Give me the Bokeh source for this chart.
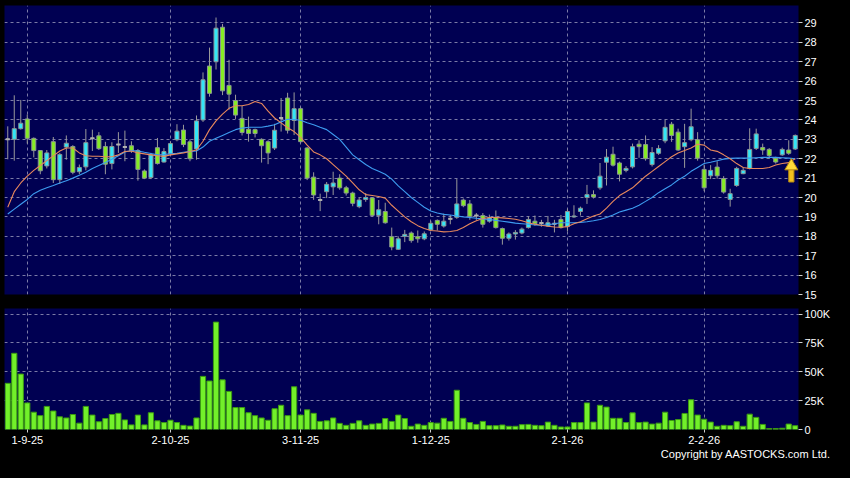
from bokeh.plotting import figure
from bokeh.layouts import column
from bokeh.models import ColumnDataSource, FixedTicker, Range1d, Div
from bokeh.embed import file_html
from bokeh.resources import INLINE

# ---------------- data ----------------
tick_idx = [3, 25, 45, 65, 86, 107]
tick_labels = ["1-9-25", "2-10-25", "3-11-25", "1-12-25", "2-1-26", "2-2-26"]

opens = [23.0, 23.0, 23.55, 24.05, 23.05, 22.42, 21.63, 22.88, 20.92, 22.6,
         22.63, 21.33, 21.58, 23.05, 23.18, 22.63, 21.75, 22.73, 22.6, 22.67,
         22.42, 21.37, 21.03, 22.57, 21.83, 22.25, 22.98, 23.48, 22.87, 22.5,
         24.0, 26.78, 27.0, 28.78, 25.78, 25.0, 24.08, 23.52, 23.5, 23.0,
         22.88, 22.55, 24.1, 25.13, 23.97, 24.58, 22.55, 21.05, 19.87, 20.3,
         20.55, 21.0, 20.5, 20.23, 19.53, 19.9, 19.98, 19.08, 19.28, 17.98,
         17.33, 18.0, 18.17, 17.98, 17.87, 18.33, 18.82, 18.53, 18.9, 18.98,
         19.87, 19.67, 19.07, 19.07, 18.78, 18.98, 18.4, 17.9, 18.12, 18.17,
         18.45, 18.78, 18.68, 18.53, 18.65, 18.87, 18.5, 19.0, 19.28, 20.0,
         20.15, 20.5, 21.82, 22.23, 21.78, 21.4, 21.58, 22.75, 22.73, 21.7,
         22.28, 22.92, 23.78, 23.37, 22.62, 22.98, 22.98, 21.45, 21.12, 21.57,
         20.98, 19.9, 20.62, 21.23, 21.5, 22.53, 22.58, 22.48, 22.03, 22.2,
         22.45, 22.5]
highs = [23.67, 25.27, 25.03, 24.28, 23.1, 22.45, 22.45, 23.12, 22.3, 23.2,
         22.7, 21.7, 23.53, 23.5, 23.37, 22.87, 22.85, 23.37, 23.45, 22.9,
         22.5, 21.45, 22.3, 23.07, 22.55, 22.9, 23.78, 23.75, 23.0, 24.23,
         26.45, 27.73, 29.28, 28.95, 27.1, 25.3, 24.72, 24.17, 23.55, 23.05,
         22.95, 23.8, 25.13, 25.4, 25.42, 24.65, 22.6, 21.3, 20.2, 20.8,
         21.33, 21.2, 20.6, 20.3, 20.0, 20.23, 20.0, 19.87, 19.73, 18.45,
         18.0, 18.33, 18.25, 18.3, 18.25, 18.8, 18.87, 19.17, 19.1, 20.95,
         19.95, 19.87, 19.2, 19.2, 19.12, 19.33, 18.45, 18.2, 18.32, 18.45,
         19.03, 19.07, 18.85, 19.05, 18.85, 19.1, 19.42, 19.6, 19.53, 20.65,
         20.37, 21.78, 22.5, 22.62, 21.85, 21.62, 22.78, 22.95, 23.2, 22.6,
         22.7, 24.0, 23.9, 23.55, 23.8, 24.58, 23.37, 21.7, 21.67, 21.87,
         21.1, 20.45, 21.58, 21.55, 23.57, 23.55, 22.78, 22.55, 22.1, 22.57,
         22.95, 23.25]
lows = [21.97, 21.9, 23.5, 22.78, 22.07, 21.2, 21.5, 20.75, 20.7, 21.95,
        21.2, 21.2, 21.4, 22.4, 22.45, 21.2, 21.45, 22.3, 21.87, 22.3,
        20.87, 20.95, 20.95, 21.7, 21.8, 22.2, 22.9, 22.6, 21.87, 21.95,
        23.9, 25.2, 26.6, 25.28, 24.53, 24.05, 23.2, 22.88, 23.1, 21.8,
        21.72, 22.45, 23.4, 23.3, 23.22, 22.8, 20.9, 19.88, 19.3, 19.97,
        20.13, 20.4, 20.1, 19.55, 19.45, 19.78, 19.0, 18.62, 18.65, 17.28,
        17.3, 17.7, 17.67, 17.67, 17.8, 18.28, 18.3, 18.45, 18.62, 18.9,
        19.5, 18.85, 18.85, 18.45, 18.7, 18.4, 17.57, 17.78, 17.83, 18.1,
        18.4, 18.55, 18.5, 18.5, 18.2, 18.4, 18.25, 18.95, 19.07, 19.67,
        19.95, 20.4, 20.62, 21.6, 20.83, 21.3, 21.5, 22.05, 21.9, 21.6,
        22.2, 22.8, 22.87, 22.4, 21.53, 22.9, 21.9, 20.33, 20.95, 20.97,
        20.2, 19.53, 20.55, 21.2, 21.45, 22.45, 22.2, 22.0, 21.75, 22.15,
        22.2, 22.45]
closes = [23.0, 23.55, 23.83, 23.05, 22.42, 21.38, 22.3, 20.92, 22.22, 22.8,
          21.3, 21.55, 22.83, 23.05, 22.52, 21.72, 22.63, 22.73, 22.6, 22.42,
          21.45, 21.0, 22.2, 21.75, 22.37, 22.78, 23.42, 22.73, 22.0, 23.95,
          26.07, 25.37, 28.73, 25.5, 25.33, 24.25, 23.35, 23.3, 23.3, 22.67,
          22.3, 23.47, 24.1, 23.47, 24.58, 22.88, 21.0, 20.13, 19.87, 20.68,
          20.75, 20.5, 20.23, 19.7, 19.87, 20.0, 19.08, 19.37, 18.7, 17.45,
          17.87, 18.1, 17.78, 17.87, 18.13, 18.67, 18.62, 18.78, 18.9, 19.67,
          19.58, 19.03, 19.07, 18.62, 18.95, 18.45, 17.9, 18.12, 18.2, 18.37,
          18.87, 18.65, 18.68, 18.7, 18.65, 18.45, 19.28, 19.05, 19.45, 20.15,
          20.03, 21.1, 22.08, 21.67, 21.2, 21.5, 22.62, 22.62, 22.0, 22.32,
          22.53, 23.62, 23.2, 22.45, 22.83, 23.65, 22.03, 20.5, 21.4, 21.12,
          20.28, 20.2, 21.5, 21.4, 22.48, 23.28, 22.45, 22.17, 21.83, 22.48,
          22.28, 23.2]
# volume in thousands of shares
volume_k = [40, 66, 48, 23, 15, 12, 20, 16, 11, 10,
            13, 5.5, 20, 12.5, 6.7, 9.5, 13, 14, 8.3, 4,
            12.5, 4, 14.5, 7.5, 6, 8, 6, 3.6, 3, 10,
            46, 42, 93, 43, 33, 19, 19, 14.5, 12, 10,
            8, 18, 21, 12, 37, 12.5, 17, 14, 7, 7.5,
            10, 5.3, 3.6, 5.3, 7.5, 3.6, 4.7, 5.3, 9.5, 7,
            12.5, 9.5, 2.8, 4.7, 3.6, 6, 5.5, 9.7, 7, 34,
            9.7, 6, 4.4, 7, 3.3, 3.3, 3.9, 2.8, 2.8, 4.2,
            4.4, 3.6, 3.3, 6.4, 3.6, 2.2, 2.2, 6, 6, 23,
            6.4, 21, 19.4, 9.7, 9.7, 6, 14.4, 6, 6.4, 4.7,
            5.5, 15, 7.8, 8.6, 13.9, 25.8, 12.5, 8.9, 6.4, 2.8,
            3.6, 3.3, 6.7, 2.8, 13.3, 10.5, 4.4, 0.8, 0.8, 1.1,
            4.7, 3.3]
ma_short = [19.5, 20.3, 20.75, 21.1, 21.4, 21.65, 21.9, 22.15, 22.4, 22.55,
            22.55, 22.3, 22.15, 22.13, 22.13, 22.1, 22.1, 22.2, 22.37, 22.4,
            22.3, 22.25, 22.2, 22.15, 22.12, 22.2, 22.25, 22.3, 22.37, 22.45,
            22.9, 23.5, 23.95, 24.3, 24.6, 24.73, 24.73, 24.8, 24.95, 24.85,
            24.45, 24.1, 23.85, 23.6, 23.4, 23.1, 22.7, 22.35, 22.2, 22.0,
            21.7, 21.4, 21.1, 20.75, 20.4, 20.15, 20.1, 20.05, 19.97, 19.6,
            19.3, 19.0, 18.75, 18.55, 18.4, 18.3, 18.27, 18.23, 18.25, 18.3,
            18.45, 18.65, 18.8, 18.92, 18.97, 18.97, 18.95, 18.92, 18.88, 18.8,
            18.7, 18.62, 18.57, 18.52, 18.48, 18.47, 18.5, 18.65, 18.75, 18.9,
            19.05, 19.15, 19.45, 19.8, 20.1, 20.3, 20.5, 20.8, 21.1, 21.35,
            21.6, 21.85, 22.1, 22.3, 22.42, 22.55, 22.75, 22.7, 22.45, 22.38,
            22.2, 22.0, 21.75, 21.55, 21.5, 21.5, 21.5, 21.55, 21.68, 21.75,
            21.8, 22.0]
ma_long = [19.15, 19.4, 19.65, 19.9, 20.2, 20.38, 20.5, 20.62, 20.75, 20.87,
           21.0, 21.15, 21.3, 21.5, 21.65, 21.8, 21.97, 22.15, 22.35, 22.42,
           22.4, 22.33, 22.27, 22.2, 22.22, 22.25, 22.28, 22.33, 22.37, 22.4,
           22.6, 22.9, 23.05, 23.2, 23.35, 23.5, 23.58, 23.62, 23.62, 23.62,
           23.68, 23.75, 23.9, 24.03, 24.02, 23.98, 23.85, 23.75, 23.62, 23.5,
           23.25, 23.0, 22.6, 22.2, 21.95, 21.7, 21.5, 21.35, 21.2, 20.95,
           20.6, 20.3, 20.0, 19.75, 19.5, 19.3, 19.2, 19.13, 19.1, 19.05,
           19.0, 18.97, 18.93, 18.9, 18.87, 18.82, 18.78, 18.73, 18.68, 18.65,
           18.62, 18.58, 18.57, 18.6, 18.65, 18.7, 18.7, 18.7, 18.72, 18.75,
           18.8, 18.87, 18.97, 19.1, 19.25, 19.35, 19.45, 19.6, 19.8, 20.0,
           20.25, 20.45, 20.65, 20.9, 21.1, 21.35, 21.55, 21.75, 21.82, 21.9,
           21.98, 22.02, 22.03, 22.03, 22.03, 22.05, 22.07, 22.07, 22.07, 22.05,
           22.03, 22.0]
price_ticks = list(range(15, 30))
vol_ticks = [0, 25, 50, 75, 100]
vol_tick_labels = ["0", "25K", "50K", "75K", "100K"]
copyright_text = "Copyright by AASTOCKS.com Ltd."

# ---------------- styles ----------------
NAVY = "#000052"
GRID = "#7b7ba6"
UP = "#33e6f7"
DOWN = "#86ec24"
EDGE = "#8a9494"
WICK = "#9a9a9a"
FONT = "Liberation Sans"

n = len(closes)
idx = list(range(n))
body_top = [max(o, c) for o, c in zip(opens, closes)]
body_bot = [min(o, c) for o, c in zip(opens, closes)]
colors = [UP if c > o else DOWN for o, c in zip(opens, closes)]
src = ColumnDataSource(dict(x=idx, o=opens, h=highs, l=lows, c=closes,
                            top=body_top, bot=body_bot, col=colors, v=volume_k,
                            ma1=ma_short, ma2=ma_long))
doji_x = [i for i in idx if opens[i] == closes[i]]
doji_y = [opens[i] for i in doji_x]

x_range = Range1d(-0.5, n - 0.5)

# ---------------- price panel ----------------
p = figure(frame_width=794, frame_height=289, x_range=x_range, y_range=Range1d(15, 29.9),
           output_backend="svg", toolbar_location=None, x_axis_location=None,
           y_axis_location="right", background_fill_color=NAVY, border_fill_color="black",
           min_border_left=4, min_border_right=36, min_border_top=5, min_border_bottom=7,
           outline_line_color=None)

p.segment(x0="x", y0="l", x1="x", y1="h", source=src, line_color=WICK, line_width=1)
p.vbar(x="x", width=0.62, top="top", bottom="bot", source=src,
       fill_color="col", line_color=EDGE, line_width=1)
p.segment(x0=[x - 0.31 for x in doji_x], y0=doji_y, x1=[x + 0.31 for x in doji_x], y1=doji_y,
          line_color="#b0b0b0", line_width=2)
p.line(x="x", y="ma2", source=src, line_color="#3d9cf0", line_width=1.1)
p.line(x="x", y="ma1", source=src, line_color="#e8885c", line_width=1.1)

# signal arrow (below the last moving-average value)
ax = n - 1.6
atop = ma_long[-1] - 0.05
p.vbar(x=[ax], width=0.8, top=[atop - 0.45], bottom=[atop - 1.15],
       fill_color="#f2c01e", line_color="#b88a10", line_width=1)
p.scatter(x=[ax], y=[atop - 0.33], marker="triangle", size=13,
          fill_color="#ffd93a", line_color="#b88a10", line_width=1)

p.yaxis.ticker = FixedTicker(ticks=price_ticks)
p.xgrid.ticker = FixedTicker(ticks=tick_idx)
for g in (p.xgrid, p.ygrid):
    g.grid_line_color = GRID
    g.grid_line_dash = "3 3"
    g.grid_line_width = 1
p.yaxis.axis_line_color = None
p.yaxis.major_tick_line_color = "#d0d0d0"
p.yaxis.major_tick_out = 4
p.yaxis.major_tick_in = 0
p.yaxis.minor_tick_line_color = None
p.yaxis.major_label_text_color = "white"
p.yaxis.major_label_text_font = FONT
p.yaxis.major_label_text_font_size = "11px"
p.yaxis.major_label_standoff = 2

# ---------------- volume panel ----------------
v = figure(frame_width=794, frame_height=121, x_range=x_range, y_range=Range1d(0, 104.8),
           output_backend="svg", toolbar_location=None, y_axis_location="right",
           background_fill_color=NAVY, border_fill_color="black",
           min_border_left=4, min_border_right=36, min_border_top=7, min_border_bottom=19,
           outline_line_color=None)
v.vbar(x="x", width=0.8, top="v", bottom=0, source=src,
       fill_color="#72f02a", line_color="#3c9a12", line_width=1)

v.yaxis.ticker = FixedTicker(ticks=vol_ticks)
v.yaxis.major_label_overrides = {t: s for t, s in zip(vol_ticks, vol_tick_labels)}
v.xaxis.ticker = FixedTicker(ticks=tick_idx)
v.xaxis.major_label_overrides = {t: s for t, s in zip(tick_idx, tick_labels)}
v.xgrid.ticker = FixedTicker(ticks=tick_idx)
for g in (v.xgrid, v.ygrid):
    g.grid_line_color = GRID
    g.grid_line_dash = "3 3"
    g.grid_line_width = 1
for a in (v.xaxis, v.yaxis):
    a.axis_line_color = None
    a.major_tick_line_color = "#d0d0d0"
    a.major_tick_in = 0
    a.minor_tick_line_color = None
    a.major_label_text_color = "white"
    a.major_label_text_font = FONT
    a.major_label_text_font_size = "11px"
v.yaxis.major_tick_out = 4
v.yaxis.major_label_standoff = 2
v.xaxis.major_tick_out = 3
v.xaxis.major_label_standoff = 3

credit = Div(text=copyright_text, width=834, height=14, margin=(0, 0, 0, 0),
             styles={"color": "white", "background-color": "black", "text-align": "right",
                     "font-family": FONT, "font-size": "11px", "line-height": "12px",
                     "padding-right": "4px", "box-sizing": "border-box", "width": "834px"})

layout = column(p, v, credit, spacing=0, background="black")
html = file_html(layout, INLINE)
html = html.replace("</head>", "<style>html, body { background-color: #000000; }</style></head>", 1)
open("out.html", "w").write(html)
